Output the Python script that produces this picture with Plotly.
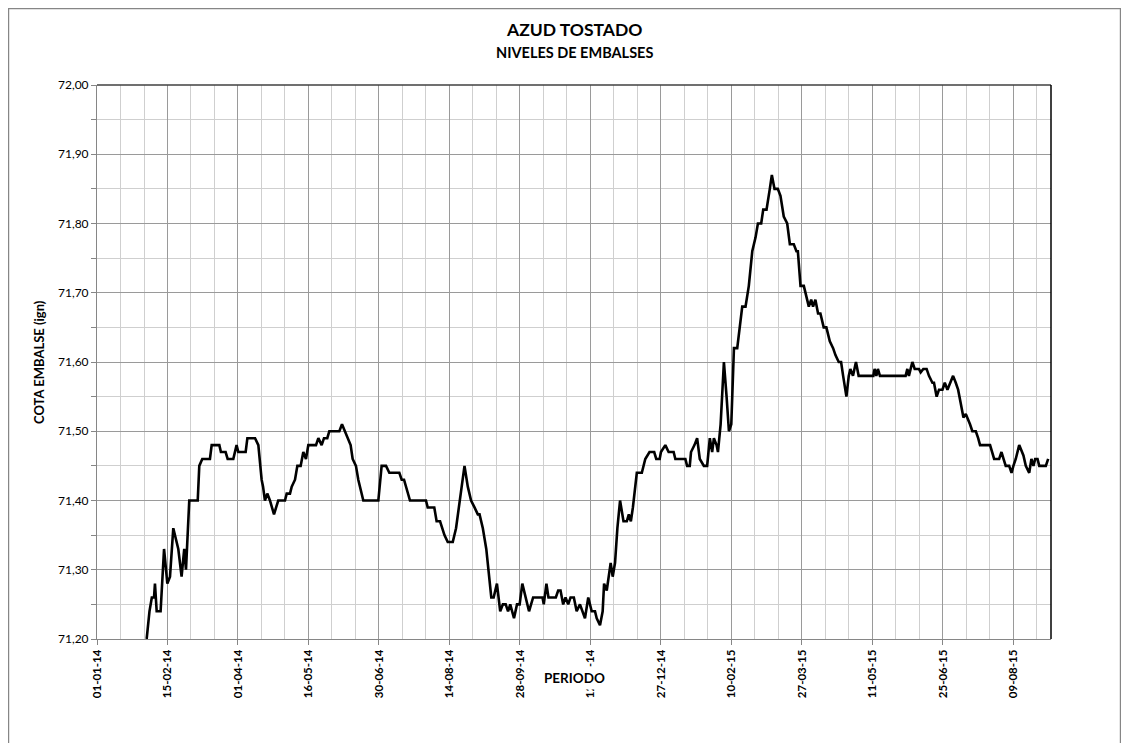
import pandas as pd
import plotly.graph_objects as go

# dias desde 01-01-2014 y cota del embalse (m)
dias = [31.7, 33.5, 35.0, 36.4, 37.0, 38.1, 40.6, 42.8, 44.9, 46.6, 48.7, 51.9, 54.0, 55.7, 56.8,
        58.9, 64.3, 65.3, 67.2, 72.1, 73.2, 78.1, 79.1, 82.1, 83.4, 87.0, 89.1, 90.2, 94.9, 96.0,
        100.9, 103.0, 105.1, 106.0, 107.2, 108.7, 110.4, 113.0, 115.7, 120.0, 121.1, 123.2, 124.3,
        126.4, 127.9, 130.0, 131.7, 133.4, 134.9, 139.8, 141.3, 143.4, 144.9, 147.0, 148.3, 154.7,
        156.4, 158.3, 160.4, 161.9, 163.2, 165.3, 166.8, 170.0, 179.6, 181.7, 184.5, 186.6, 193.0,
        194.5, 196.0, 197.2, 199.8, 210.0, 211.1, 215.3, 216.8, 219.0, 220.3, 221.8, 223.9, 227.1,
        229.2, 231.4, 234.6, 236.7, 238.8, 241.0, 243.1, 244.2, 246.3, 248.5, 249.5, 251.7, 253.2,
        255.3, 257.4, 259.1, 260.9, 262.4, 263.8, 266.2, 268.1, 269.8, 271.5, 273.7, 275.8, 278.4,
        284.4, 285.2, 286.9, 288.2, 292.9, 294.4, 295.9, 297.6, 299.1, 300.8, 302.3, 304.4, 306.2,
        308.3, 310.0, 311.5, 313.6, 315.8, 317.9, 319.0, 321.1, 322.8, 323.7, 325.4, 327.9, 329.2,
        330.7, 332.2, 333.9, 336.1, 338.2, 339.5, 340.8, 342.1, 344.6, 347.8, 350.0, 352.7, 355.7,
        357.0, 359.2, 360.0, 362.8, 364.9, 368.1, 369.2, 375.6, 376.7, 378.4, 379.2, 381.4, 383.1,
        384.8, 387.4, 389.5, 391.2, 392.7, 393.8, 395.5, 396.4, 398.1, 400.2, 401.9, 403.4, 404.9,
        406.6, 408.7, 410.4, 411.9, 414.0, 416.1, 418.3, 420.4, 421.9, 424.0, 425.3, 427.4, 429.5,
        430.8, 432.5, 434.6, 436.3, 438.4, 440.6, 442.3, 444.8, 446.5, 447.4, 449.1, 451.2, 453.3,
        454.4, 455.9, 457.1, 458.6, 460.3, 461.8, 463.9, 465.6, 467.8, 469.9, 471.4, 473.5, 475.0,
        476.3, 478.4, 479.9, 480.9, 482.6, 484.5, 486.2, 495.6, 496.4, 497.5, 498.5, 499.8, 516.2,
        517.3, 518.3, 519.4, 520.5, 522.0, 524.7, 525.8, 527.5, 529.6, 531.1, 533.3, 534.3, 536.0,
        537.5, 539.7, 541.2, 542.9, 544.6, 546.5, 548.2, 549.7, 551.4, 553.1, 554.6, 555.6, 557.3,
        558.8, 561.0, 562.5, 563.7, 570.1, 571.6, 572.7, 575.9, 577.4, 578.7, 580.1, 582.3, 583.8,
        585.0, 586.5, 588.7, 590.2, 591.4, 592.9, 595.1, 596.5, 597.8, 598.9, 600.4, 601.5, 605.7,
        607.2]
cota = [71.20, 71.24, 71.26, 71.26, 71.28, 71.24, 71.24, 71.33, 71.28, 71.29, 71.36, 71.33, 71.29, 71.33, 71.30,
        71.40, 71.40, 71.45, 71.46, 71.46, 71.48, 71.48, 71.47, 71.47, 71.46, 71.46, 71.48, 71.47, 71.47, 71.49,
        71.49, 71.48, 71.43, 71.42, 71.40, 71.41, 71.40, 71.38, 71.40, 71.40, 71.41, 71.41, 71.42,
        71.43, 71.45, 71.45, 71.47, 71.46, 71.48, 71.48, 71.49, 71.48, 71.49, 71.49, 71.50, 71.50,
        71.51, 71.50, 71.49, 71.48, 71.46, 71.45, 71.43, 71.40, 71.40, 71.45, 71.45, 71.44, 71.44,
        71.43, 71.43, 71.42, 71.40, 71.40, 71.39, 71.39, 71.37, 71.37, 71.36, 71.35, 71.34, 71.34,
        71.36, 71.40, 71.45, 71.42, 71.40, 71.39, 71.38, 71.38, 71.36, 71.33, 71.31, 71.26, 71.26,
        71.28, 71.24, 71.25, 71.25, 71.24, 71.25, 71.23, 71.25, 71.25, 71.28, 71.26, 71.24, 71.26,
        71.26, 71.25, 71.28, 71.26, 71.26, 71.27, 71.27, 71.25, 71.26, 71.25, 71.26, 71.26, 71.24,
        71.25, 71.24, 71.23, 71.26, 71.24, 71.24, 71.23, 71.22, 71.24, 71.28, 71.27, 71.31, 71.29,
        71.31, 71.36, 71.40, 71.37, 71.37, 71.38, 71.37, 71.39, 71.44, 71.44, 71.46, 71.47, 71.47,
        71.46, 71.46, 71.47, 71.48, 71.47, 71.47, 71.46, 71.46, 71.45, 71.45, 71.47, 71.48, 71.49,
        71.46, 71.45, 71.45, 71.49, 71.47, 71.49, 71.48, 71.47, 71.51, 71.60, 71.55, 71.50, 71.51,
        71.62, 71.62, 71.65, 71.68, 71.68, 71.71, 71.76, 71.78, 71.80, 71.80, 71.82, 71.82, 71.85,
        71.87, 71.85, 71.85, 71.84, 71.81, 71.80, 71.77, 71.77, 71.76, 71.76, 71.71, 71.71, 71.69,
        71.68, 71.69, 71.68, 71.69, 71.67, 71.67, 71.65, 71.65, 71.63, 71.62, 71.61, 71.60, 71.60,
        71.58, 71.55, 71.58, 71.59, 71.58, 71.60, 71.58, 71.58, 71.59, 71.58, 71.59, 71.58, 71.58,
        71.59, 71.58, 71.59, 71.60, 71.59, 71.59, 71.585, 71.59, 71.59, 71.58, 71.57, 71.57, 71.55,
        71.56, 71.56, 71.57, 71.56, 71.57, 71.58, 71.57, 71.56, 71.54, 71.52, 71.525, 71.52, 71.51,
        71.50, 71.50, 71.49, 71.48, 71.48, 71.47, 71.46, 71.46, 71.47, 71.46, 71.45, 71.45, 71.44,
        71.45, 71.46, 71.48, 71.47, 71.465, 71.45, 71.44, 71.46, 71.45, 71.46, 71.46, 71.45, 71.45,
        71.46]

inicio = pd.Timestamp("2014-01-01")
fechas = inicio + pd.to_timedelta(dias, unit="D")

DIA = 86400000
FONT = "Lato"

fig = go.Figure(go.Scatter(x=fechas, y=cota, mode="lines",
                           line=dict(color="black", width=2.6), showlegend=False))

fig.update_layout(
    width=1113, height=735,
    margin=dict(l=89, r=70, t=77, b=104),
    paper_bgcolor="white", plot_bgcolor="white",
    separators=",.",
    font=dict(family=FONT, color="black"),
    xaxis=dict(
        type="date", range=["2014-01-01", "2015-09-02"],
        tick0="2014-01-01", dtick=45 * DIA, tickformat="%d-%m-%y",
        tickangle=-90, tickfont=dict(size=11.5, weight="bold"),
        ticks="outside", ticklen=5, tickcolor="#868686",
        showgrid=True, gridcolor="#9a9a9a", gridwidth=1,
        showline=True, linecolor="#868686", linewidth=1,
        minor=dict(dtick=15 * DIA, tick0="2014-01-01", showgrid=True,
                   gridcolor="#cfcfcf", gridwidth=1),
        zeroline=False,
    ),
    yaxis=dict(
        range=[71.2, 72.0], dtick=0.1, tickformat=".2f",
        tickfont=dict(size=12),
        ticks="outside", ticklen=5, tickcolor="#868686",
        showgrid=True, gridcolor="#9a9a9a", gridwidth=1,
        showline=True, linecolor="#868686", linewidth=1,
        minor=dict(dtick=0.05, showgrid=True, gridcolor="#cfcfcf",
                   ticks="outside", ticklen=5, tickcolor="#868686"),
        zeroline=False,
    ),
    annotations=[
        dict(text="<b>AZUD TOSTADO</b>", x=0.5, y=1.0993, xref="paper", yref="paper",
             xanchor="center", yanchor="middle", showarrow=False, font=dict(size=17.5)),
        dict(text="<b>NIVELES DE EMBALSES</b>", x=0.5, y=1.0578, xref="paper", yref="paper",
             xanchor="center", yanchor="middle", showarrow=False, font=dict(size=14.5)),
        dict(text="<b>COTA EMBALSE (ign)</b>", x=-0.0608, y=0.5, xref="paper", yref="paper",
             xanchor="center", yanchor="middle", textangle=-90, showarrow=False,
             font=dict(size=13)),
        dict(text="<b>PERIODO</b>", x=0.501, y=-0.0705, xref="paper", yref="paper",
             xanchor="center", yanchor="middle", showarrow=False, font=dict(size=13.5),
             bgcolor="white", borderpad=3),
    ],
    shapes=[
        # borde superior y derecho del area de trazado
        dict(type="line", xref="paper", yref="paper", x0=0, x1=1, y0=1, y1=1,
             line=dict(color="#404040", width=1.5)),
        dict(type="line", xref="paper", yref="paper", x0=1, x1=1, y0=0, y1=1,
             line=dict(color="black", width=1.5)),
        # marco del grafico
        dict(type="rect", xref="paper", yref="paper", x0=-0.0928, x1=1.0729,
             y0=-0.2, y1=1.138, line=dict(color="#868686", width=1.5)),
    ],
)

fig.write_html("out.html")
